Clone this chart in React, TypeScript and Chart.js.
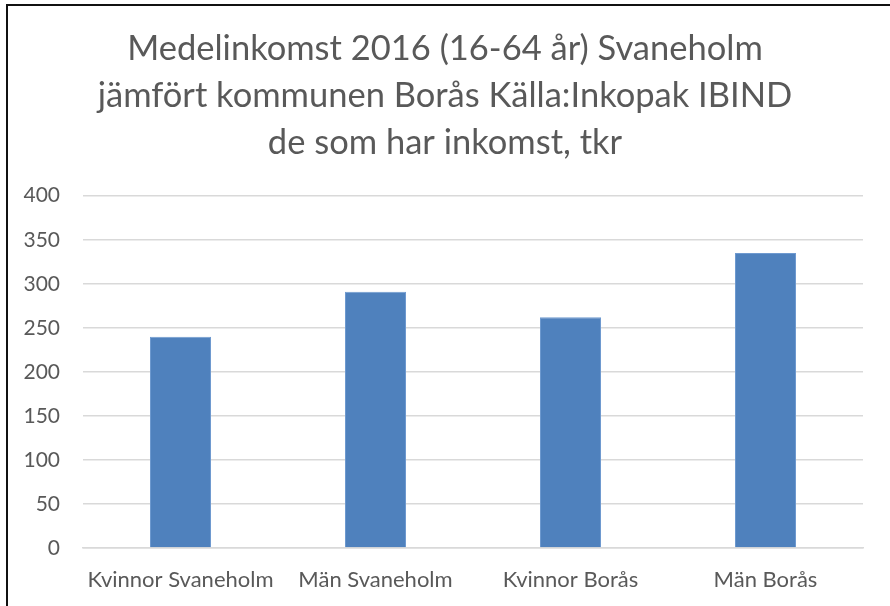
import React, { useEffect, useRef } from "react";
import { Chart, registerables } from "chart.js";

Chart.register(...registerables);

const titleLines = [
  "Medelinkomst 2016 (16-64 år) Svaneholm",
  "jämfört kommunen Borås Källa:Inkopak IBIND",
  "de som har inkomst, tkr",
];
const categories = ["Kvinnor Svaneholm", "Män Svaneholm", "Kvinnor Borås", "Män Borås"];
const incomeValues = [240, 291, 262, 335];
const yMin = 0;
const yMax = 400;
const yStep = 50;

const FONT = "Lato, 'Open Sans', sans-serif";
const TEXT = "#595959";

export default function App() {
  const ref = useRef<HTMLCanvasElement | null>(null);

  useEffect(() => {
    document.body.style.margin = "0";
    const ctx = ref.current!;
    const chart = new Chart(ctx, {
      type: "bar",
      data: {
        labels: categories,
        datasets: [
          {
            data: incomeValues,
            backgroundColor: "#4f81bd",
            borderColor: "#6f9ad0",
            borderWidth: 1,
            categoryPercentage: 1,
            barPercentage: 0.313,
          },
        ],
      },
      options: {
        responsive: false,
        animation: false,
        devicePixelRatio: 1,
        layout: { padding: { left: 0, right: 0, top: 0, bottom: 0 } },
        plugins: {
          legend: { display: false },
          tooltip: { enabled: false },
          title: {
            display: true,
            text: titleLines,
            color: TEXT,
            font: { family: FONT, size: 34.5, weight: "normal", lineHeight: 1.35 },
            padding: { top: 26, bottom: 30 },
          },
        },
        scales: {
          x: {
            grid: { display: false, drawTicks: false },
            border: { display: true, color: "#d9d9d9", width: 1.5 },
            ticks: {
              color: TEXT,
              font: { family: FONT, size: 22 },
              padding: 19,
              maxRotation: 0,
              autoSkip: false,
            },
            afterFit: (s: any) => {
              s.height = 58;
            },
          },
          y: {
            min: yMin,
            max: yMax,
            ticks: {
              stepSize: yStep,
              color: TEXT,
              font: { family: FONT, size: 21 },
              padding: 23,
            },
            grid: { color: "#d9d9d9", lineWidth: 1.5, drawTicks: false },
            border: { display: false },
            afterFit: (s: any) => {
              s.width = 83;
            },
          },
          spacer: {
            type: "linear",
            position: "right",
            display: true,
            grid: { display: false, drawTicks: false },
            border: { display: false },
            ticks: { display: false },
            afterFit: (s: any) => {
              s.width = 27;
            },
          },
        },
      },
    });
    return () => chart.destroy();
  }, []);

  return (
    <div style={{ position: "relative", width: 890, height: 606, background: "#fff", overflow: "hidden" }}>
      <canvas ref={ref} width={890} height={606} style={{ position: "absolute", left: 0, top: 0 }} />
      <div
        style={{
          position: "absolute",
          left: 6,
          top: 4,
          width: 900,
          height: 700,
          borderLeft: "2px solid #111",
          borderTop: "2px solid #111",
          pointerEvents: "none",
        }}
      />
    </div>
  );
}
